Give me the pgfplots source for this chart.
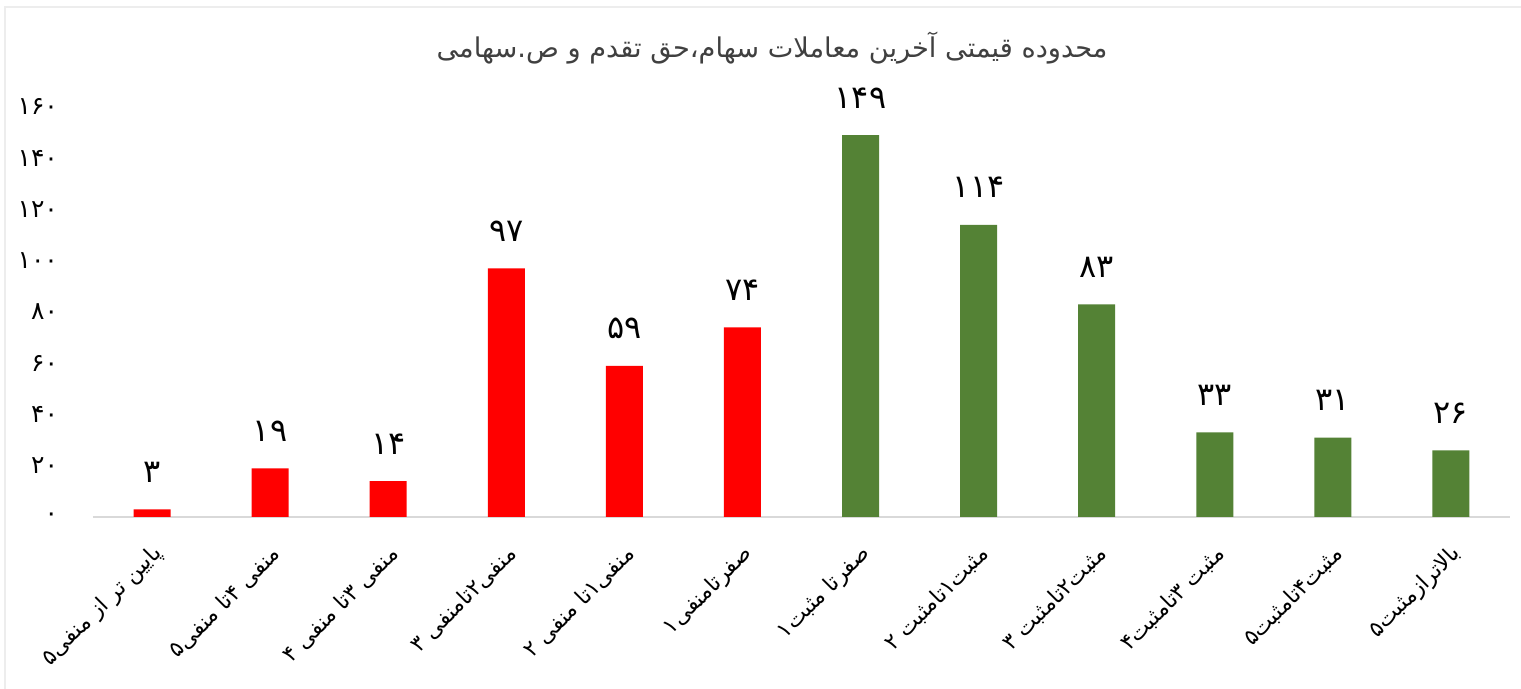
\documentclass[border=0pt]{standalone}
\usepackage{fontspec}
\usepackage{pgfplots}
\pgfplotsset{compat=1.18}
\TeXXeTstate=1
\newfontfamily\arabicfont[Script=Arabic]{DejaVu Sans}
\definecolor{barred}{HTML}{FF0000}
\definecolor{bargreen}{HTML}{548235}
\begin{document}
\begin{tikzpicture}
\useasboundingbox (0,0) rectangle (760.5pt,344.5pt);
\fill[white] (0,0) rectangle (760.5pt,344.5pt);
\draw[color=black!7, line width=1pt] (2.5pt,0) -- (2.5pt,341pt) -- (760.5pt,341pt);
\begin{axis}[
  at={(46.5pt,86pt)}, anchor=south west,
  scale only axis, width=708.5pt, height=205pt,
  xmin=-0.5, xmax=11.5, ymin=0, ymax=160,
  ybar, bar width=18.5pt, bar shift=0pt,
  axis line style={draw=none}, major tick length=0pt,
  xtick={0,...,11},
  xticklabels={
    {\beginR پایین تر از منفی۵\endR},
    {\beginR منفی ۴تا منفی۵\endR},
    {\beginR منفی ۳تا منفی ۴\endR},
    {\beginR منفی۲تامنفی ۳\endR},
    {\beginR منفی۱تا منفی ۲\endR},
    {\beginR صفرتامنفی۱\endR},
    {\beginR صفرتا مثبت۱\endR},
    {\beginR مثبت۱تامثبت ۲\endR},
    {\beginR مثبت۲تامثبت ۳\endR},
    {\beginR مثبت ۳تامثبت۴\endR},
    {\beginR مثبت۴تامثبت۵\endR},
    {\beginR بالاترازمثبت۵\endR}},
  ytick={0,20,...,160},
  yticklabels={۰,۲۰,۴۰,۶۰,۸۰,۱۰۰,۱۲۰,۱۴۰,۱۶۰},
  yticklabel style={font=\arabicfont\fontsize{12.5}{14}\selectfont, anchor=east, xshift=-14pt, text=black},
  xticklabel style={font=\arabicfont\fontsize{11}{13}\selectfont, rotate=45, anchor=east, yshift=-14pt, xshift=-6pt, text=black},
  point meta=explicit symbolic,
  nodes near coords={\pgfplotspointmeta},
  every node near coord/.append style={font=\arabicfont\fontsize{16}{16}\selectfont, yshift=10pt, text=black},
  clip=false,
]
\draw[color=black!15, line width=1pt] (axis cs:-0.5,0) -- (axis cs:11.5,0);
\addplot[fill=barred, draw=none] coordinates {(0,3)[۳] (1,19)[۱۹] (2,14)[۱۴] (3,97)[۹۷] (4,59)[۵۹] (5,74)[۷۴]};
\addplot[fill=bargreen, draw=none] coordinates {(6,149)[۱۴۹] (7,114)[۱۱۴] (8,83)[۸۳] (9,33)[۳۳] (10,31)[۳۱] (11,26)[۲۶]};
\end{axis}
\node[font=\arabicfont\fontsize{13.6}{15}\selectfont, text=black!75] at (386pt,320.5pt) {\beginR محدوده قیمتی آخرین معاملات سهام،حق تقدم و ص.سهامی\endR};
\end{tikzpicture}
\end{document}
